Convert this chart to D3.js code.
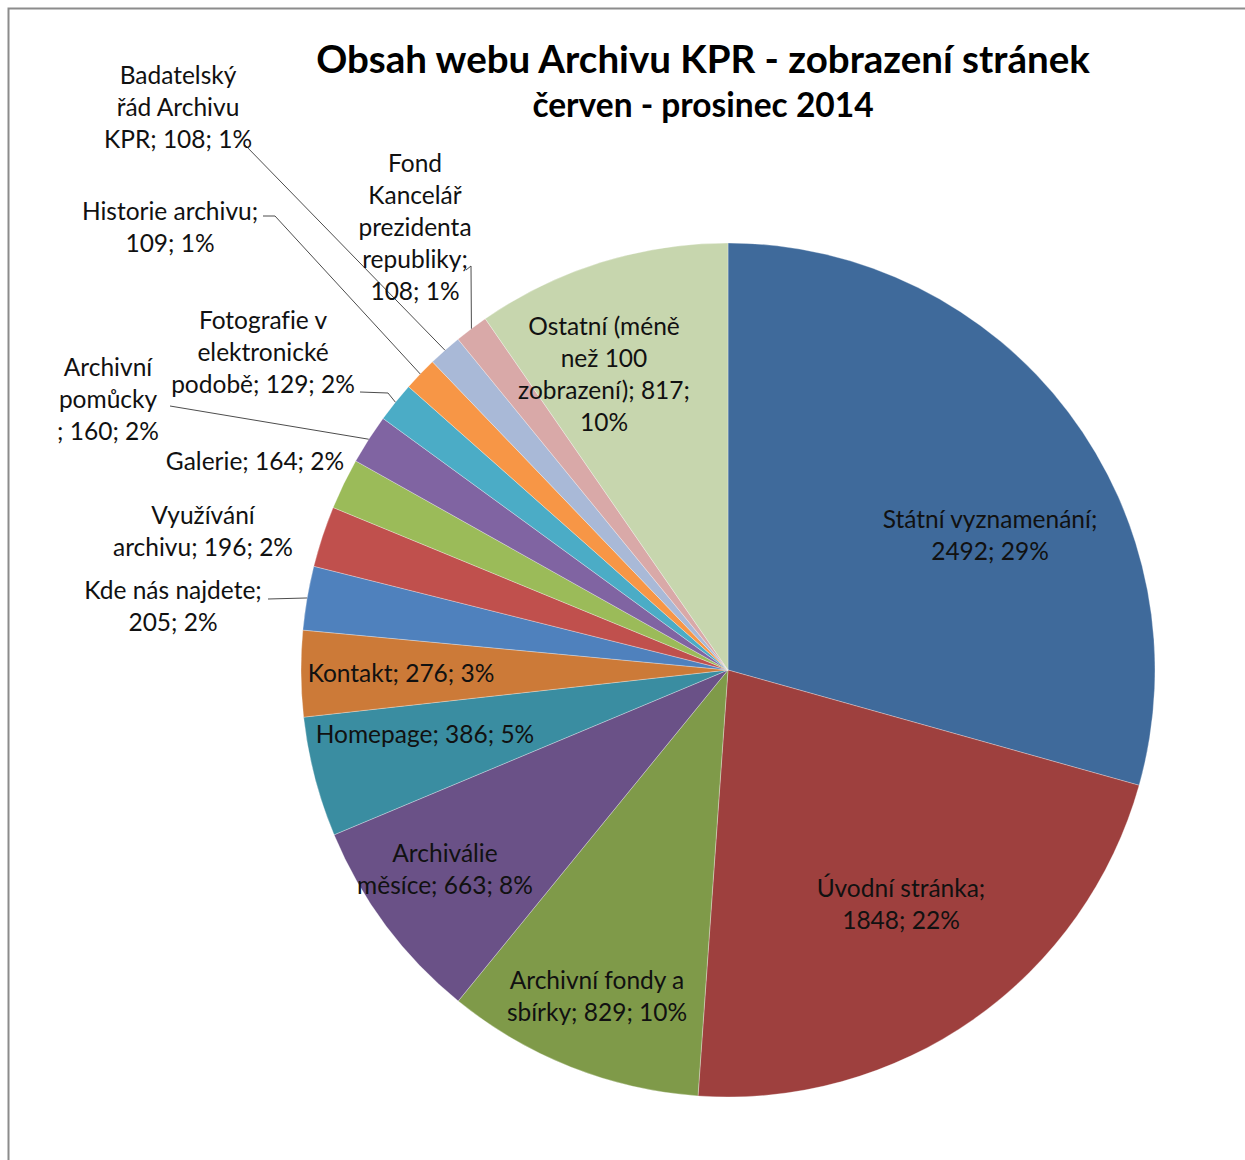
<!DOCTYPE html>
<html>
<head>
<meta charset="utf-8">
<script src="https://cdn.jsdelivr.net/npm/d3@7"></script>
<style>
  body { margin: 0; background: #fff; }
  svg { display: block; }
  text { font-variant-ligatures: none; }
</style>
</head>
<body>
<div id="chart"></div>
<script>
// page names (clockwise from 12 o'clock) and their view counts
var pages = [
    "Státní vyznamenání", "Úvodní stránka", "Archivní fondy a sbírky", "Archiválie měsíce",
    "Homepage", "Kontakt", "Kde nás najdete", "Využívání archivu", "Galerie",
    "Archivní pomůcky", "Fotografie v elektronické podobě", "Historie archivu",
    "Badatelský řád Archivu KPR", "Fond Kancelář prezidenta republiky",
    "Ostatní (méně než 100 zobrazení)"
];
var views = [2492, 1848, 829, 663, 386, 276, 205, 196, 164, 160, 129, 109, 108, 108, 817];

var colors = [
    "#3f6a9b", "#9e403e", "#7f9a49", "#6a5187", "#3a8da1", "#cc7a38",
    "#4f81bd", "#c0504d", "#9bbb59", "#8064a2", "#4bacc6", "#f79646",
    "#a9b9d7", "#d9a9a8", "#c7d6ae"
];

var titleLines = ["Obsah webu Archivu KPR - zobrazení stránek", "červen - prosinec 2014"];

var width = 1245, height = 1160;
var cx = 728, cy = 670, radius = 427;

// label text wrapping + placement (offset of label centre from the pie centre)
// lead = label-side points of a leader line (relative to pie centre)
var labelLayout = [
    { lines: ["Státní vyznamenání;", "2492; 29%"], dx: 262, dy: -135 },
    { lines: ["Úvodní stránka;", "1848; 22%"], dx: 173, dy: 234 },
    { lines: ["Archivní fondy a", "sbírky; 829; 10%"], dx: -131, dy: 326 },
    { lines: ["Archiválie", "měsíce; 663; 8%"], dx: -283, dy: 199 },
    { lines: ["Homepage; 386; 5%"], dx: -303, dy: 64 },
    { lines: ["Kontakt; 276; 3%"], dx: -327, dy: 3 },
    { lines: ["Kde nás najdete;", "205; 2%"], dx: -555, dy: -64, lead: [[-460, -71]] },
    { lines: ["Využívání", "archivu; 196; 2%"], dx: -525, dy: -139 },
    { lines: ["Galerie; 164; 2%"], dx: -473, dy: -209 },
    { lines: ["Archivní", "pomůcky", "; 160; 2%"], dx: -620, dy: -271, lead: [[-558, -264]] },
    { lines: ["Fotografie v", "elektronické", "podobě; 129; 2%"], dx: -465, dy: -318, lead: [[-368, -278], [-340, -277]] },
    { lines: ["Historie archivu;", "109; 1%"], dx: -558, dy: -443, lead: [[-465, -454], [-453, -454]] },
    { lines: ["Badatelský", "řád Archivu", "KPR; 108; 1%"], dx: -550, dy: -563, lead: [[-483, -525]] },
    { lines: ["Fond", "Kancelář", "prezidenta", "republiky;", "108; 1%"], dx: -313, dy: -443, lead: [[-262, -400], [-257, -404]] },
    { lines: ["Ostatní (méně", "než 100", "zobrazení); 817;", "10%"], dx: -124, dy: -296 }
];

var lineH = 32;
var fontFamily = "Lato, 'Open Sans', sans-serif";

var data = pages.map(function (p, i) {
    return { name: p, value: views[i], color: colors[i], layout: labelLayout[i] };
});

var svg = d3.select("#chart").append("svg")
    .attr("width", width)
    .attr("height", height);

svg.append("rect")
    .attr("width", width)
    .attr("height", height)
    .attr("fill", "#fff");

// chart area border (only top and left edges are inside the picture)
svg.append("path")
    .attr("d", "M8.5," + height + " V8.5 H" + width)
    .attr("fill", "none")
    .attr("stroke", "#8c8c8c")
    .attr("stroke-width", 2);

var pie = d3.pie()
    .sort(null)
    .value(function (d) { return d.value; });

var arc = d3.arc()
    .innerRadius(0)
    .outerRadius(radius);

var arcs = pie(data);

var g = svg.append("g")
    .attr("transform", "translate(" + cx + "," + cy + ")");

g.append("g")
    .attr("class", "slices")
    .selectAll("path")
    .data(arcs)
    .enter()
    .append("path")
    .attr("d", arc)
    .attr("fill", function (d) { return d.data.color; })
    .attr("stroke", "#ffffff")
    .attr("stroke-opacity", 0.5)
    .attr("stroke-width", 0.6);

// leader lines for the labels placed outside
var line = d3.line();
g.append("g")
    .attr("class", "leaders")
    .selectAll("path")
    .data(arcs.filter(function (d) { return d.data.layout.lead; }))
    .enter()
    .append("path")
    .attr("d", function (d) {
        var mid = (d.startAngle + d.endAngle) / 2;
        var pts = d.data.layout.lead.slice();
        pts.push([radius * Math.sin(mid), -radius * Math.cos(mid)]);
        return line(pts);
    })
    .attr("fill", "none")
    .attr("stroke", "#4d4d4d")
    .attr("stroke-width", 1);

var labels = g.append("g")
    .attr("class", "labels")
    .attr("font-family", fontFamily)
    .attr("font-size", 24.5)
    .attr("fill", "#111")
    .selectAll("text")
    .data(arcs)
    .enter()
    .append("text")
    .attr("text-anchor", "middle");

labels.each(function (d) {
    var L = d.data.layout;
    var n = L.lines.length;
    var t = d3.select(this);
    L.lines.forEach(function (s, i) {
        t.append("tspan")
            .attr("x", L.dx)
            .attr("y", L.dy + (i - (n - 1) / 2) * lineH)
            .attr("dy", "0.35em")
            .text(s);
    });
});

// title
svg.append("text")
    .attr("x", 703)
    .attr("y", 60)
    .attr("dy", "0.35em")
    .attr("text-anchor", "middle")
    .attr("font-family", fontFamily)
    .attr("font-weight", "bold")
    .attr("font-size", 38.5)
    .attr("fill", "#000")
    .text(titleLines[0]);

svg.append("text")
    .attr("x", 703)
    .attr("y", 105)
    .attr("dy", "0.35em")
    .attr("text-anchor", "middle")
    .attr("font-family", fontFamily)
    .attr("font-weight", "bold")
    .attr("font-size", 33.5)
    .attr("fill", "#000")
    .text(titleLines[1]);
</script>
</body>
</html>
